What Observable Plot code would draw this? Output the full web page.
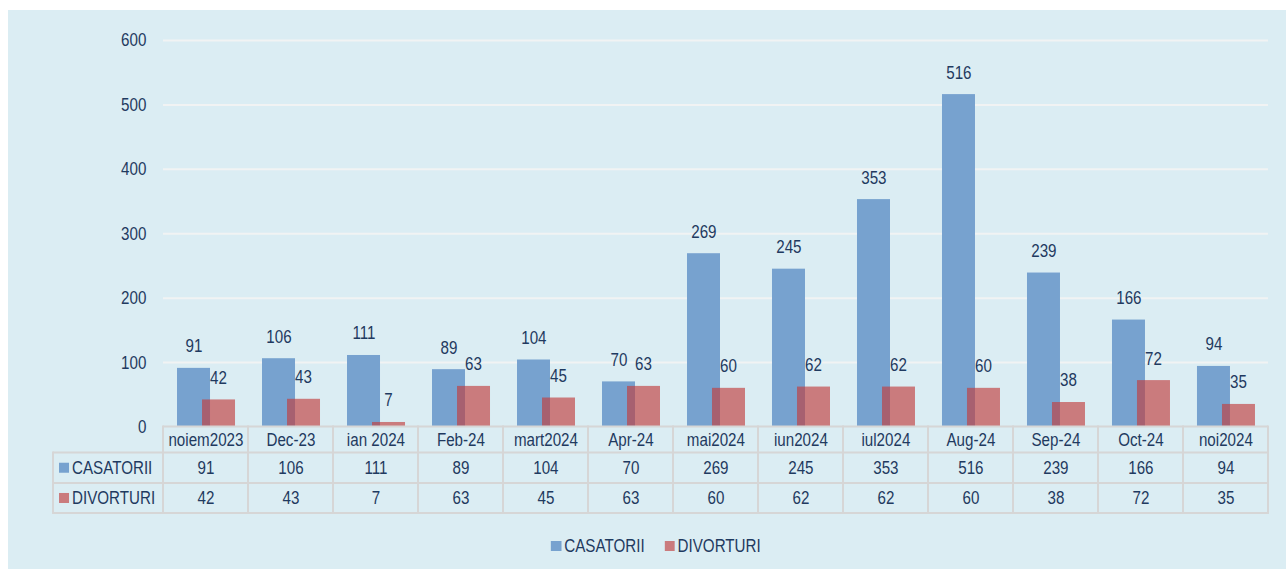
<!DOCTYPE html>
<html>
<head>
<meta charset="utf-8">
<script src="https://cdn.jsdelivr.net/npm/d3@7"></script>
<script src="https://cdn.jsdelivr.net/npm/@observablehq/plot@0.6"></script>
<style>
  html, body { margin: 0; padding: 0; background: #ffffff; overflow: hidden; width: 1286px; height: 569px; }
  #panel { position: absolute; left: 8px; top: 10px; width: 1278px; height: 559px; background: #dbedf3; overflow: hidden; }
  #chart { position: absolute; left: 0; top: 0; transform-origin: 0 0; }
  #chart svg { display: block; max-width: none !important; }
  #legend { position: absolute; left: 0; top: 516px; height: 40px; display: flex; justify-content: center; align-items: center;
    transform-origin: 0 0; box-sizing: border-box;
    font-family: "Liberation Sans", Arial, sans-serif; font-size: 18.5px; color: #1f3a60; }
  #legend .item { display: flex; align-items: center; }
  #legend .sw { height: 10px; display: inline-block; }
</style>
</head>
<body>
<div id="panel">
  <div id="chart"></div>
  <div id="legend"></div>
</div>
<script>
const categories = ["noiem2023","Dec-23","ian 2024","Feb-24","mart2024","Apr-24","mai2024","iun2024","iul2024","Aug-24","Sep-24","Oct-24","noi2024"];
const casatorii = [91,106,111,89,104,70,269,245,353,516,239,166,94];
const divorturi = [42,43,7,63,45,63,60,62,62,60,38,72,35];
const yTicks = [0,100,200,300,400,500,600];
const seriesNames = ["CASATORII","DIVORTURI"];
const seriesColors = ["#77a2cf","rgb(194,62,62)"];
const seriesOpacity = [1, 0.65];

// The reference's typeface is horizontally condensed: draw at full width, then compress.
const SX = 0.82;
const FONT = '"Liberation Sans", Arial, sans-serif';
const FS = 18.5;
const TEXT = "#1f3a60";
const W = 1278 / SX;

const cas = categories.map((c, i) => ({cat: c, value: casatorii[i]}));
const div = categories.map((c, i) => ({cat: c, value: divorturi[i]}));

function tableGrid(index, scales, values, dims) {
  const x = scales.x;
  const bw = x(categories[1]) - x(categories[0]);
  const left = dims.marginLeft, right = dims.width - dims.marginRight;
  const top = dims.height - dims.marginBottom;
  const rowsY = [top, top + 26, top + 56.5, top + 86.5];
  const labelLeft = left - 110 / SX;
  const g = d3.create("svg:g");
  const lines = g.append("g").attr("stroke", "#d6d6d6").attr("fill", "none");
  lines.append("line").attr("x1", left).attr("x2", right).attr("y1", rowsY[0]).attr("y2", rowsY[0]).attr("stroke-width", 2);
  for (let r = 1; r < 4; r++) {
    lines.append("line").attr("x1", labelLeft).attr("x2", right).attr("y1", rowsY[r]).attr("y2", rowsY[r]).attr("stroke-width", 2);
  }
  const edges = categories.map(c => x(c)).concat([x(categories[categories.length - 1]) + bw]);
  edges.forEach(e => lines.append("line").attr("x1", e).attr("x2", e).attr("y1", rowsY[0] - 1).attr("y2", rowsY[3] + 1).attr("stroke-width", 2 / SX));
  lines.append("line").attr("x1", labelLeft).attr("x2", labelLeft).attr("y1", rowsY[1] - 1).attr("y2", rowsY[3] + 1).attr("stroke-width", 2 / SX);
  seriesNames.forEach((name, i) => {
    const cy = (rowsY[i + 1] + rowsY[i + 2]) / 2;
    g.append("rect").attr("x", labelLeft + 6 / SX).attr("y", cy - 5).attr("width", 10 / SX).attr("height", 10)
      .attr("fill", seriesColors[i]).attr("fill-opacity", seriesOpacity[i]);
    g.append("text").attr("x", labelLeft + 19 / SX).attr("y", cy).attr("dy", "0.35em")
      .attr("text-anchor", "start").attr("fill", TEXT).attr("font-size", FS).text(name);
  });
  return g.node();
}

const chart = Plot.plot({
  width: W,
  height: 515,
  marginLeft: 155 / SX,
  marginRight: 18 / SX,
  marginTop: 30,
  marginBottom: 98.5,
  style: {background: "transparent", fontFamily: FONT, fontSize: FS + "px", color: TEXT, maxWidth: "none"},
  x: {type: "band", domain: categories, paddingInner: 0, paddingOuter: 0, round: false, axis: null},
  y: {domain: [0, 600], axis: null},
  marks: [
    Plot.gridY(yTicks.filter(v => v > 0), {stroke: "#f1f3f3", strokeOpacity: 1, strokeWidth: 2}),
    Plot.axisY(yTicks, {tickSize: 0, tickPadding: 17 / SX, label: null, fontSize: FS, fill: TEXT}),
    Plot.barY(cas, {x: "cat", y: "value", fill: seriesColors[0], fillOpacity: seriesOpacity[0], insetLeft: 14 / SX, insetRight: 38 / SX}),
    Plot.barY(div, {x: "cat", y: "value", fill: seriesColors[1], fillOpacity: seriesOpacity[1], insetLeft: 39 / SX, insetRight: 13 / SX}),
    Plot.text(cas, {x: "cat", y: "value", text: d => String(d.value), dx: -12 / SX, dy: -22, fontSize: FS, fill: TEXT}),
    Plot.text(div, {x: "cat", y: "value", text: d => String(d.value), dx: 12.5 / SX, dy: -22, fontSize: FS, fill: TEXT}),
    tableGrid,
    Plot.text(categories, {x: d => d, text: d => d, frameAnchor: "bottom", lineAnchor: "middle", dy: 13, fontSize: FS, fill: TEXT}),
    Plot.text(cas, {x: "cat", text: d => String(d.value), frameAnchor: "bottom", lineAnchor: "middle", dy: 41.5, fontSize: FS, fill: TEXT}),
    Plot.text(div, {x: "cat", text: d => String(d.value), frameAnchor: "bottom", lineAnchor: "middle", dy: 71.5, fontSize: FS, fill: TEXT})
  ]
});
const chartDiv = document.getElementById("chart");
chartDiv.style.width = W + "px";
chartDiv.appendChild(chart);
chart.style.maxWidth = "none";
chart.setAttribute("width", W);
chartDiv.style.transform = `scaleX(${SX})`;

const legend = document.getElementById("legend");
legend.style.width = W + "px";
legend.style.paddingLeft = (18 / SX) + "px";
legend.style.transform = `scaleX(${SX})`;
seriesNames.forEach((name, i) => {
  const item = document.createElement("span");
  item.className = "item";
  if (i > 0) item.style.marginLeft = (20 / SX) + "px";
  const sw = document.createElement("span");
  sw.className = "sw";
  sw.style.width = (10 / SX) + "px";
  sw.style.marginRight = (3 / SX) + "px";
  sw.style.background = seriesColors[i];
  sw.style.opacity = seriesOpacity[i];
  item.appendChild(sw);
  const t = document.createElement("span");
  t.textContent = name;
  item.appendChild(t);
  legend.appendChild(item);
});
</script>
</body>
</html>
